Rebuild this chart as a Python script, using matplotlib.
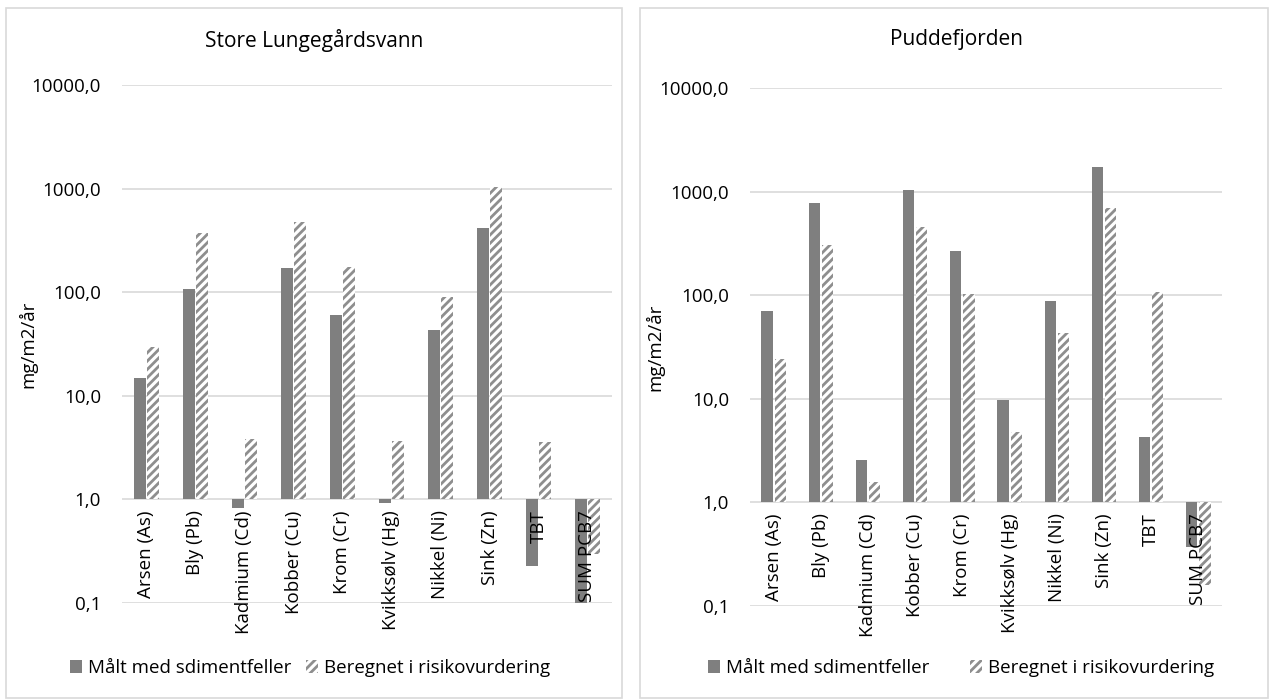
import matplotlib
matplotlib.use("Agg")
import matplotlib.pyplot as plt
import matplotlib.patches as mpatches
from matplotlib.transforms import offset_copy
import numpy as np

plt.rcParams['font.family'] = ['Open Sans', 'DejaVu Sans']
plt.rcParams['hatch.linewidth'] = 2.0

categories = ["Arsen (As)", "Bly (Pb)", "Kadmium (Cd)", "Kobber (Cu)", "Krom (Cr)",
              "Kvikksølv (Hg)", "Nikkel (Ni)", "Sink (Zn)", "TBT", "SUM PCB7"]

# Store Lungegårdsvann (mg/m2/år)
slv_measured = [15, 107, 0.82, 172, 60, 0.93, 43, 420, 0.226, 0.1]
slv_estimated = [29.7, 373, 3.8, 474, 176, 3.7, 90.6, 1040, 3.6, 0.30]

# Puddefjorden (mg/m2/år)
pf_measured = [70, 773, 2.56, 1040, 268, 9.7, 87, 1720, 4.3, 0.37]
pf_estimated = [24.3, 308, 1.59, 458, 102, 4.8, 42.8, 700, 107, 0.16]

yticks = [0.1, 1, 10, 100, 1000, 10000]
ytick_labels = ["0,1", "1,0", "10,0", "100,0", "1000,0", "10000,0"]

series_names = ["Målt med sdimentfeller", "Beregnet i risikovurdering"]
titles = ["Store Lungegårdsvann", "Puddefjorden"]
ylabel = "mg/m2/år"

SOLID = "#7f7f7f"
HATCH = "#8e8e8e"
GRID = "#d9d9d9"
BASE = 1.0

W, H = 1273, 699
fig = plt.figure(figsize=(W / 100, H / 100), dpi=100)


def fx(px):
    return px / W


def fy(py):
    return 1 - py / H


# panel frames
for (x0, x1) in [(6, 622), (640, 1268)]:
    fig.add_artist(mpatches.Rectangle((fx(x0), fy(698)), fx(x1 - x0), (698 - 8) / H,
                                      transform=fig.transFigure, fill=False,
                                      edgecolor=GRID, linewidth=1.2))

panels = [
    dict(rect=(122, 612, 85, 603), meas=slv_measured, est=slv_estimated,
         title=titles[0], title_x=314, ylab_x=-0.173,
         leg_x=310, colspacing=0.8),
    dict(rect=(750, 1222, 88, 606), meas=pf_measured, est=pf_estimated,
         title=titles[1], title_x=956, ylab_x=-0.182,
         leg_x=961, colspacing=2.2),
]

x = np.arange(len(categories))
bw = 0.24
off = 0.14

for p in panels:
    l, r, t, b = p["rect"]
    ax = fig.add_axes([fx(l), fy(b), fx(r - l), (b - t) / H])
    ax.set_yscale("log")
    ax.set_ylim(0.1, 10000)
    ax.set_xlim(-0.5, len(categories) - 0.5)

    meas = np.array(p["meas"])
    est = np.array(p["est"])
    h1 = ax.bar(x - off, meas - BASE, bottom=BASE, width=bw, color=SOLID,
                linewidth=0, zorder=2, label=series_names[0])
    h2 = ax.bar(x + off, est - BASE, bottom=BASE, width=bw, facecolor="white",
                edgecolor=HATCH, hatch="////", linewidth=0, zorder=2,
                label=series_names[1])

    ax.set_yticks(yticks)
    ax.set_yticklabels(ytick_labels, fontsize=13.5)
    ax.yaxis.set_minor_locator(matplotlib.ticker.NullLocator())
    ax.tick_params(axis="y", length=0, pad=15)
    ax.set_xticks([])
    ax.grid(axis="y", which="major", color=GRID, linewidth=1.2, zorder=0)
    ax.set_axisbelow(True)
    for s in ax.spines.values():
        s.set_visible(False)

    ax.set_ylabel(ylabel, fontsize=13.5)
    ax.yaxis.set_label_coords(p["ylab_x"], 0.5)

    # category labels hang below the 1,0 baseline
    trans = offset_copy(ax.transData, fig=fig, x=0, y=-11, units="dots")
    for xi, name in zip(x, categories):
        ax.text(xi, BASE, name, rotation=90, ha="center", va="top",
                fontsize=13.5, transform=trans, zorder=5, clip_on=False)

    fig.text(fx(p["title_x"]), fy(40), p["title"], ha="center", va="center",
             fontsize=15)

    fig.legend(handles=[h1, h2], loc="center", ncol=2, frameon=False,
               bbox_to_anchor=(fx(p["leg_x"]), fy(668)), fontsize=13.5,
               handlelength=0.65, handleheight=0.65, handletextpad=0.3,
               columnspacing=p["colspacing"], borderaxespad=0, borderpad=0)

fig.savefig("out.png", dpi=100)
